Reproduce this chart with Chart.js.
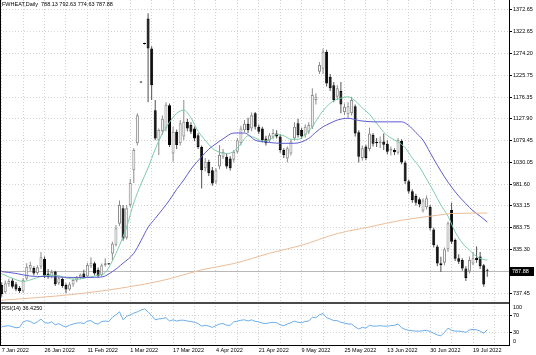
<!DOCTYPE html>
<html>
<head>
<meta charset="utf-8">
<script src="https://cdn.jsdelivr.net/npm/chart.js@4/dist/chart.umd.min.js"></script>
<style>
html,body{margin:0;padding:0;background:#fff;overflow:hidden}
#wrap{position:relative;width:536px;height:355px;background:#fff}
canvas{display:block}
</style>
</head>
<body>
<div id="wrap"><canvas id="c" width="536" height="355"></canvas></div>
<script>
// ---------------- DATA ----------------
const symbolName = 'FWHEAT,Daily';
const open  = [756,740,758,766,758,750,742,770,793,794,783,797,815,782,775,786,760,770,756,746,757,766,773,782,775,798,805,790,778,801,803.5,826,846,893,928,862,935,1013,1073,1211,1297,1352,1285,1147,1080,1100,1106,1158,1050,1099,1073,1088,1121,1114,1106,1091,1065,1017,1032,1013,987,1021,1043,1043,1039,1036,1054,1073,1102,1117,1106,1140,1110,1106,1084,1080,1086,1095,1088,1058,1039,1050,1084,1118,1103,1091,1099,1110,1170,1233,1240,1278,1222,1203,1177,1190,1143,1138,1140,1156,1098,1040,1066,1060,1092,1076,1073,1077,1072,1057,1058,1052,1078,1030,988,966,955,948,922,930,931,880,842,805,806,836,924,857,816,812,793,786,804,817,820,800,788.13];
const high  = [762,766,770,772,763,754,772,805,808,798,800,830,820,792,790,788,776,773,760,762,770,776,782,790,806,818,808,795,804,816,805,853,890,945,935,935,993,1062,1140,1212,1298,1364,1290,1170,1106,1135,1165,1162,1110,1104,1125,1170,1128,1120,1110,1096,1068,1040,1036,1020,1018,1069,1060,1050,1044,1058,1085,1112,1125,1130,1142,1143,1115,1110,1090,1096,1105,1102,1094,1062,1066,1082,1120,1128,1108,1115,1120,1196,1185,1255,1285,1282,1228,1210,1203,1210,1162,1165,1177,1160,1102,1068,1070,1108,1096,1085,1088,1095,1080,1066,1062,1085,1082,1034,992,970,960,952,950,956,935,884,846,819,840,898,940,860,825,816,798,820,830,842,830,803,792.63];
const low   = [730,737,752,748,742,738,738,767,787,778,779,792,772,770,771,754,756,750,738,743,752,762,769,770,772,794,778,772,775,797,801,812,842,888,855,858,930,984,1068,1208,1294,1165,1170,1080,1047,1092,1100,1065,1032,1060,1068,1080,1100,1094,1078,1060,972,1010,1000,978,982,1015,1038,1016,1012,1030,1050,1068,1098,1096,1100,1104,1094,1075,1068,1076,1082,1084,1052,1040,1030,1046,1080,1086,1083,1086,1094,1105,1160,1228,1228,1200,1190,1165,1170,1140,1136,1130,1135,1088,1030,1034,1035,1055,1066,1065,1062,1058,1048,1046,1047,1048,1026,982,960,940,934,930,918,925,878,840,798,785,800,830,848,810,803,788,765,782,800,806,792,752,774.63];
const close = [736,760,765,752,746,742,768,797,801,782,796,818,777,774,785,758,771,754,746,758,767,773,779,774,801,806,782,776,800,805,802.5,849,883,935,860,928,984,1058,1136,1209,1295,1285,1203,1084,1103,1128,1159,1069,1099,1069,1118,1121,1106,1099,1084,1065,1013,1032,1006,983,1013,1047,1054,1021,1017,1054,1080,1106,1117,1102,1136,1110,1099,1080,1073,1091,1096,1088,1058,1047,1062,1077,1110,1091,1088,1110,1114,1181,1177,1248,1278,1207,1196,1170,1196,1160,1155,1156,1170,1095,1043,1062,1040,1095,1072,1073,1077,1070,1054,1060,1053,1080,1030,988,965,946,940,936,945,950,883,845,804,800,836,894,853,815,808,793,772,812,816,812,798,757,787.88];

// moving averages: [bar index, value]
const maFast = [[0,781],[3,771],[6,764],[9,770],[12,777],[15,778],[18,772],[21,769],[24,773],[27,778],[29,784],[31,810],[33,845],[35,886],[37,940],[39,982],[41,1018],[43,1060],[45,1095],[47,1120],[49,1140],[51,1147],[53,1130],[55,1100],[57,1080],[59,1062],[61,1053],[63,1050],[65,1055],[67,1072],[69,1090],[71,1085],[73,1078],[75,1080],[77,1093],[79,1090],[81,1082],[83,1082],[85,1093],[87,1110],[89,1135],[91,1155],[93,1168],[95,1174],[97,1177],[99,1168],[101,1152],[103,1138],[105,1118],[107,1098],[109,1085],[111,1076],[113,1063],[115,1040],[117,1020],[119,993],[121,965],[123,935],[125,910],[127,875],[129,850],[131,834],[133,820],[135,813],[136,812]];
const maMid  = [[0,786],[4,782],[8,776],[12,775],[16,774],[20,773],[24,773],[28,774],[31,786],[34,805],[37,827],[39,855],[41,885],[43,905],[45,925],[47,946],[49,970],[51,991],[53,1015],[56,1043],[58,1060],[60,1072],[62,1083],[65,1096],[68,1096],[71,1080],[74,1076],[78,1073],[82,1073],[86,1084],[88,1098],[90,1110],[92,1118],[94,1125],[97,1129],[100,1124],[104,1121],[108,1121],[112,1121],[114,1113],[116,1097],[118,1080],[120,1052],[122,1024],[124,998],[126,975],[128,955],[130,938],[132,922],[134,910],[136,897]];
const maSlow = [[0,722],[10,728],[20,735],[30,745],[40,758],[47,770],[56,790],[65,804],[75,827],[84,845],[94,871],[103,886],[112,901],[122,912],[126,916],[136,917]];

// RSI(14): [bar index, value]
const rsi14 = [[0,44],[2,46],[4,41],[5,42],[6,55],[7,58],[8,56],[9,51],[10,55],[11,62],[12,53],[13,52],[14,55],[15,48],[16,51],[17,46],[18,43],[19,47],[20,50],[21,52],[22,53],[23,51],[24,57],[25,58],[26,52],[27,50],[28,56],[29,57],[30,56],[31,66],[32,72],[33,79],[34,60],[35,68],[36,72],[37,76],[38,79],[39,83],[40,86],[41,79],[42,70],[43,60],[44,62],[45,63],[46,65],[47,57],[48,60],[49,57],[50,59],[51,59],[52,57],[53,56],[54,54],[55,51],[56,45],[57,47],[58,45],[59,42],[60,46],[61,50],[62,51],[63,47],[64,47],[65,55],[66,57],[67,59],[68,60],[69,57],[70,60],[71,56],[72,55],[73,52],[74,51],[75,53],[76,54],[77,53],[78,48],[79,46],[80,50],[81,53],[82,57],[83,54],[84,53],[85,56],[86,57],[87,66],[88,65],[89,72],[90,75],[91,65],[92,62],[93,58],[94,58],[95,54],[96,52],[97,50],[98,50],[99,43],[100,38],[101,42],[102,40],[103,47],[104,45],[105,45],[106,46],[107,45],[108,45],[109,46],[110,47],[111,50],[112,41],[113,37],[114,35],[115,34],[116,33],[117,33],[118,34],[119,35],[120,32],[121,28],[122,24],[123,22],[124,30],[125,40],[126,35],[127,33],[128,33],[129,32],[130,30],[131,36],[132,37],[133,36],[134,33],[135,28],[136,36.425]];

// axis ticks / labels
const priceTicks = [1372.65,1322.65,1274.20,1225.75,1176.35,1127.90,1079.45,1030.05,981.60,933.15,883.75,835.30,737.45];
const rsiTicks = [100,70,30,0];
const rsiLevels = [70,30];
const dateLabels = ['7 Jan 2022','26 Jan 2022','11 Feb 2022','1 Mar 2022','17 Mar 2022','4 Apr 2022','21 Apr 2022','9 May 2022','25 May 2022','13 Jun 2022','30 Jun 2022','19 Jul 2022'];
const dateLabelBar = [0,12,24,36,48,60,72,84,96,108,120,132];

// ---------------- styling / layout ----------------
const N = close.length;
const FONT = {family: '"Liberation Sans", Arial, Helvetica, sans-serif', size: 5.5};
const GRID = '#d2d2d2';
const vGrid = [];
for (let v = 0; v <= 140; v += 6) vGrid.push(v);
const isBull = close.map((c, i) => c > open[i]);
const AXIS_W = 27;

const zeroPad = s => { s.paddingTop = 0; s.paddingBottom = 0; s.paddingLeft = 0; s.paddingRight = 0; };

const framePlugin = {
  id: 'frame',
  beforeDatasetsDraw(chart) {
    const {ctx, chartArea: a, scales} = chart;
    const py = Math.round(scales.y.getPixelForValue(close[N - 1])) + 0.5;
    ctx.save();
    ctx.strokeStyle = '#b8b8b8';
    ctx.lineWidth = 1;
    ctx.beginPath(); ctx.moveTo(a.left, py); ctx.lineTo(a.right, py); ctx.stroke();
    ctx.restore();
  },
  afterDraw(chart) {
    const {ctx, chartArea: a, scales} = chart;
    const r = scales.rsi;
    ctx.save();
    // panel separator
    ctx.fillStyle = '#4a4a4a';
    ctx.fillRect(a.left, Math.round(r.top) - 1, a.right - a.left + 1, 2);
    // frame lines
    ctx.strokeStyle = '#000';
    ctx.lineWidth = 1;
    ctx.beginPath();
    ctx.moveTo(a.right + 0.5, 0); ctx.lineTo(a.right + 0.5, a.bottom + 0.5);
    ctx.moveTo(0.5, 0); ctx.lineTo(0.5, a.bottom + 0.5);
    ctx.moveTo(0, Math.round(a.bottom) + 0.5); ctx.lineTo(a.right + 1, Math.round(a.bottom) + 0.5);
    ctx.stroke();
    ctx.font = `${FONT.size}px ${FONT.family}`;
    ctx.textBaseline = 'middle';
    ctx.textAlign = 'left';
    // RSI window end labels, kept inside the window like the terminal does
    ctx.fillStyle = '#000';
    ctx.fillText(String(rsiTicks[0]), a.right + 4, r.getPixelForValue(rsiTicks[0]) + 4);
    ctx.fillText(String(rsiTicks[rsiTicks.length - 1]), a.right + 4, r.getPixelForValue(rsiTicks[rsiTicks.length - 1]) - 4);
    // current price box
    const py = scales.y.getPixelForValue(close[N - 1]);
    ctx.fillStyle = '#000';
    ctx.fillRect(a.right + 1, Math.round(py) - 4, 24, 9);
    ctx.fillStyle = '#fff';
    ctx.fillText(close[N - 1].toFixed(2), a.right + 3, Math.round(py) + 0.5);
    // header texts
    ctx.fillStyle = '#000';
    ctx.fillText(`${symbolName}  ${open[N-1].toFixed(2)} ${high[N-1].toFixed(2)} ${low[N-1].toFixed(2)} ${close[N-1].toFixed(2)}`, 2, 4.5);
    ctx.fillText(`RSI(14) ${rsi14[rsi14.length - 1][1].toFixed(4)}`, 2, r.top + 5);
    ctx.restore();
  }
};

const ctx = document.getElementById('c').getContext('2d');
new Chart(ctx, {
  type: 'bar',
  data: {
    datasets: [
      {type: 'line', data: maSlow.map(([x, y]) => ({x, y})), yAxisID: 'y', xAxisID: 'x', borderColor: '#ebbd98', borderWidth: 1, pointRadius: 0, cubicInterpolationMode: 'monotone', order: 0},
      {type: 'line', data: maMid.map(([x, y]) => ({x, y})), yAxisID: 'y', xAxisID: 'x', borderColor: '#5c5cd0', borderWidth: 1, pointRadius: 0, cubicInterpolationMode: 'monotone', order: 0},
      {type: 'line', data: maFast.map(([x, y]) => ({x, y})), yAxisID: 'y', xAxisID: 'x', borderColor: '#7ccca8', borderWidth: 1, pointRadius: 0, cubicInterpolationMode: 'monotone', order: 0},
      {type: 'bar', data: high.map((h, i) => ({x: i, y: [low[i], h]})), yAxisID: 'y', xAxisID: 'x',
        backgroundColor: isBull.map(b => b ? '#8c8c8c' : '#505050'), borderWidth: 0, barThickness: 1, grouped: false, inflateAmount: 0, order: 2},
      {type: 'bar', data: open.map((o, i) => ({x: i, y: [o, close[i]]})), yAxisID: 'y', xAxisID: 'x',
        backgroundColor: isBull.map(b => b ? '#ffffff' : '#000000'), borderColor: isBull.map(b => b ? '#8c8c8c' : '#000000'),
        borderWidth: 1, borderSkipped: false, barThickness: 3, minBarLength: 1, grouped: false, inflateAmount: 0, order: 1},
      {type: 'line', data: rsi14.map(([x, y]) => ({x, y})), yAxisID: 'rsi', xAxisID: 'x', borderColor: '#6aaeea', borderWidth: 1, pointRadius: 0, tension: 0, order: 0}
    ]
  },
  options: {
    responsive: false,
    animation: false,
    devicePixelRatio: 1,
    events: [],
    layout: {padding: 0},
    plugins: {legend: {display: false}, tooltip: {enabled: false}, title: {display: false}},
    scales: {
      x: {
        type: 'linear', position: 'bottom', min: -0.476, max: 142.08, offset: false,
        grid: {display: true, offset: false, color: GRID, lineWidth: 1, drawTicks: false},
        border: {display: false, dash: [1, 2]},
        afterBuildTicks: s => { s.ticks = vGrid.map(v => ({value: v})); },
        afterFit: s => { s.height = 10; zeroPad(s); },
        ticks: {
          autoSkip: false, maxRotation: 0, minRotation: 0, align: 'start', padding: 2,
          color: '#000', font: FONT,
          callback: v => { const k = dateLabelBar.indexOf(v); return k >= 0 ? dateLabels[k] : ''; }
        }
      },
      y: {
        type: 'linear', position: 'right', stack: 'panes', stackWeight: 303,
        min: 715.82, max: 1393.52,
        grid: {color: GRID, lineWidth: 1, drawTicks: true, tickLength: 3, tickColor: '#000'},
        border: {display: false, dash: [1, 2]},
        afterBuildTicks: s => { s.ticks = priceTicks.map(v => ({value: v})); },
        afterFit: s => { s.width = AXIS_W; zeroPad(s); },
        ticks: {color: '#000', font: FONT, padding: 1, autoSkip: false, callback: v => Number(v).toFixed(2)}
      },
      rsi: {
        type: 'linear', position: 'right', stack: 'panes', stackWeight: 42,
        min: 0, max: 100,
        grid: {color: c => (c.tick && rsiLevels.includes(c.tick.value)) ? GRID : 'rgba(0,0,0,0)', lineWidth: 1, drawTicks: true, tickLength: 3, tickColor: c => (c.tick && rsiLevels.includes(c.tick.value)) ? '#000' : 'rgba(0,0,0,0)'},
        border: {display: false, dash: [1, 2]},
        afterBuildTicks: s => { s.ticks = rsiTicks.map(v => ({value: v})); },
        afterFit: s => { s.width = AXIS_W; zeroPad(s); },
        ticks: {color: '#000', font: FONT, padding: 1, autoSkip: false, callback: v => rsiLevels.includes(v) ? String(v) : ''}
      }
    }
  },
  plugins: [framePlugin]
});
</script>
</body>
</html>
